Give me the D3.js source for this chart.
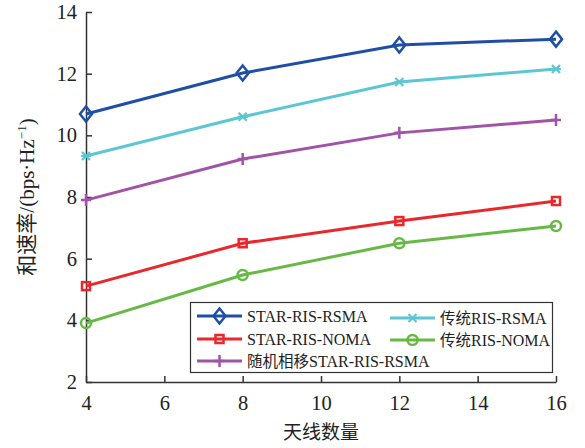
<!DOCTYPE html>
<html>
<head>
<meta charset="utf-8">
<script src="https://cdn.jsdelivr.net/npm/d3@7"></script>
<style>
  body { margin: 0; background: #fff; }
  .axis text { font-family: "Liberation Serif", "Times New Roman", serif; font-size: 20.5px; fill: #222; }
  .axis path, .axis line { stroke: #333; stroke-width: 1.5px; }
  .lbl { font-family: "Liberation Serif", "Noto Sans CJK SC", serif; fill: #222; }
  .leg text { font-family: "Liberation Serif", "Noto Sans CJK SC", serif; font-size: 16px; fill: #222; }
</style>
</head>
<body>
<script>
var antennas = [4, 8, 12, 16];
var starRsma  = [10.69, 12.02, 12.93, 13.12];
var risRsma   = [9.33, 10.60, 11.73, 12.15];
var randRsma  = [7.90, 9.23, 10.08, 10.50];
var starNoma  = [5.11, 6.50, 7.22, 7.87];
var risNoma   = [3.91, 5.47, 6.50, 7.06];
var xTicks = [4, 6, 8, 10, 12, 14, 16];
var yTicks = [2, 4, 6, 8, 10, 12, 14];

var series = [
  {name: "STAR-RIS-RSMA", values: starRsma, color: "#1f4ea6", marker: "diamond"},
  {name: "传统RIS-RSMA", values: risRsma, color: "#5cc6d2", marker: "star"},
  {name: "随机相移STAR-RIS-RSMA", values: randRsma, color: "#a153a6", marker: "plus"},
  {name: "STAR-RIS-NOMA", values: starNoma, color: "#e8282c", marker: "square"},
  {name: "传统RIS-NOMA", values: risNoma, color: "#67b946", marker: "circle"}
];

var width = 585, height = 448;
var margin = {left: 86, right: 29, top: 12, bottom: 66};

var svg = d3.select("body").append("svg")
    .attr("width", width).attr("height", height);

var x = d3.scaleLinear().domain([4, 16]).range([margin.left, width - margin.right]);
var y = d3.scaleLinear().domain([2, 14]).range([height - margin.bottom, margin.top]);

svg.append("g").attr("class", "axis")
    .attr("transform", "translate(0," + y(2) + ")")
    .call(d3.axisBottom(x).tickValues(xTicks).tickSize(-6).tickPadding(13).tickSizeOuter(0))
    .selectAll("text").attr("dy", "0.71em");

svg.append("g").attr("class", "axis")
    .attr("transform", "translate(" + x(4) + ",0)")
    .call(d3.axisLeft(y).tickValues(yTicks).tickSize(-6).tickPadding(9).tickSizeOuter(0));

svg.append("text").attr("class", "lbl")
    .attr("x", (x(4) + x(16)) / 2).attr("y", 439)
    .attr("text-anchor", "middle")
    .style("font-family", "Noto Sans CJK SC").style("font-size", "19px")
    .text("天线数量");

var yl = svg.append("text").attr("class", "lbl")
    .attr("transform", "translate(34," + (y(8)) + ") rotate(-90)")
    .attr("text-anchor", "middle").style("font-size", "21px");
yl.append("tspan").style("font-family", "Noto Sans CJK SC").text("和速率");
yl.append("tspan").text("/(bps·Hz");
yl.append("tspan").attr("dy", "-8").style("font-size", "13px").text("−1");
yl.append("tspan").attr("dy", "8").text(")");

function drawMarker(g, type, color) {
  var s = 6;
  if (type === "diamond") {
    g.append("path").attr("d", "M0," + (-s - 1.5) + "L" + s + ",0L0," + (s + 1.5) + "L" + (-s) + ",0Z")
      .attr("fill", "none").attr("stroke", color).attr("stroke-width", 2.5);
  } else if (type === "square") {
    g.append("rect").attr("x", -4).attr("y", -4).attr("width", 8).attr("height", 8)
      .attr("fill", "none").attr("stroke", color).attr("stroke-width", 2.5);
  } else if (type === "circle") {
    g.append("circle").attr("r", 5).attr("fill", "none").attr("stroke", color).attr("stroke-width", 2.5);
  } else if (type === "plus") {
    g.append("path").attr("d", "M-5,0H5M0,-6V6").attr("stroke", color).attr("stroke-width", 2.5);
  } else if (type === "star") {
    g.append("path").attr("d", "M-4,-4L4,4M-4,4L4,-4M-5,0H5").attr("stroke", color).attr("stroke-width", 2.2);
  }
}

var line = d3.line().x(function (d, i) { return x(antennas[i]); }).y(function (d) { return y(d); });

series.forEach(function (s) {
  svg.append("path").datum(s.values)
    .attr("d", line).attr("fill", "none")
    .attr("stroke", s.color).attr("stroke-width", 3);
  s.values.forEach(function (v, i) {
    var g = svg.append("g").attr("transform", "translate(" + x(antennas[i]) + "," + y(v) + ")");
    drawMarker(g, s.marker, s.color);
  });
});

// legend
var leg = svg.append("g").attr("class", "leg");
leg.append("rect").attr("x", 190.5).attr("y", 302.5).attr("width", 362).attr("height", 70)
  .attr("fill", "#fff").attr("stroke", "#333").attr("stroke-width", 1.2);
var legPos = [
  {i: 0, x: 197, y: 316},
  {i: 1, x: 390, y: 318},
  {i: 3, x: 197, y: 339},
  {i: 4, x: 390, y: 340},
  {i: 2, x: 197, y: 361}
];
legPos.forEach(function (p) {
  var s = series[p.i];
  leg.append("line").attr("x1", p.x).attr("x2", p.x + 45).attr("y1", p.y).attr("y2", p.y)
    .attr("stroke", s.color).attr("stroke-width", 3);
  var g = leg.append("g").attr("transform", "translate(" + (p.x + 22.5) + "," + p.y + ")");
  drawMarker(g, s.marker, s.color);
  var t = leg.append("text").attr("x", p.x + 50).attr("y", p.y + 5.5);
  var m = s.name.match(/^([^A-Z]*)(.*)$/);
  if (m[1]) t.append("tspan").style("font-family", "Noto Sans CJK SC").style("font-size", "15.5px").text(m[1]);
  t.append("tspan").text(m[2]);
});
</script>
</body>
</html>
